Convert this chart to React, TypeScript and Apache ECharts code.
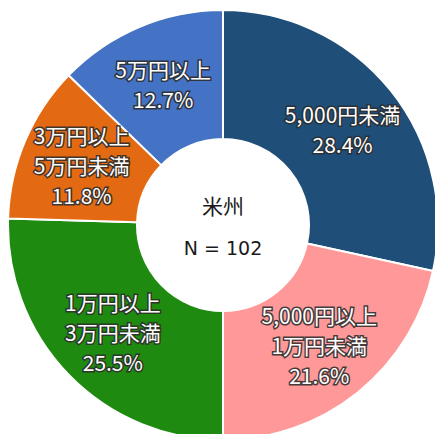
import React, { useEffect, useRef } from "react";
import * as echarts from "echarts";

const categories = ["5,000円未満", "5,000円以上\n1万円未満", "1万円以上\n3万円未満", "3万円以上\n5万円未満", "5万円以上"];
const counts = [29, 22, 26, 12, 13];
const colors = ["#1F4E79", "#FF9999", "#1F8A10", "#E36A12", "#4472C4"];
const centerTitle = "米州";
const centerN = "N = 102";

export default function App() {
  const ref = useRef<HTMLDivElement>(null);
  useEffect(() => {
    if (!ref.current) return;
    const chart = echarts.init(ref.current, undefined, { renderer: "svg" });
    chart.setOption({
      animation: false,
      backgroundColor: "#ffffff",
      series: [
        {
          type: "pie",
          center: [223, 225],
          radius: [86, 215],
          startAngle: 90,
          clockwise: true,
          percentPrecision: 1,
          data: categories.map((name, i) => ({
            name,
            value: counts[i],
            itemStyle: { color: colors[i] },
          })),
          itemStyle: { borderColor: "#ffffff", borderWidth: 2 },
          label: {
            show: true,
            position: "inside",
            formatter: "{b}\n{d}%",
            color: "#ffffff",
            fontSize: 21,
            lineHeight: 30,
            fontFamily: "Noto Sans CJK JP",
            textBorderColor: "rgba(45,45,45,0.9)",
            textBorderWidth: 3,
          },
          labelLine: { show: false },
          emphasis: { disabled: true },
        },
      ],
      graphic: [
        {
          type: "text",
          x: 223,
          y: 205,
          style: {
            text: centerTitle,
            align: "center",
            verticalAlign: "middle",
            fontSize: 21,
            fontFamily: "Noto Sans CJK JP",
            fill: "#1a1a1a",
          },
        },
        {
          type: "text",
          x: 223,
          y: 248,
          style: {
            text: centerN,
            align: "center",
            verticalAlign: "middle",
            fontSize: 19,
            fontFamily: "DejaVu Sans",
            fill: "#1a1a1a",
          },
        },
      ],
    });
    return () => chart.dispose();
  }, []);
  return (
    <div
      ref={ref}
      style={{ position: "absolute", left: 0, top: 0, width: 435, height: 434 }}
    />
  );
}
